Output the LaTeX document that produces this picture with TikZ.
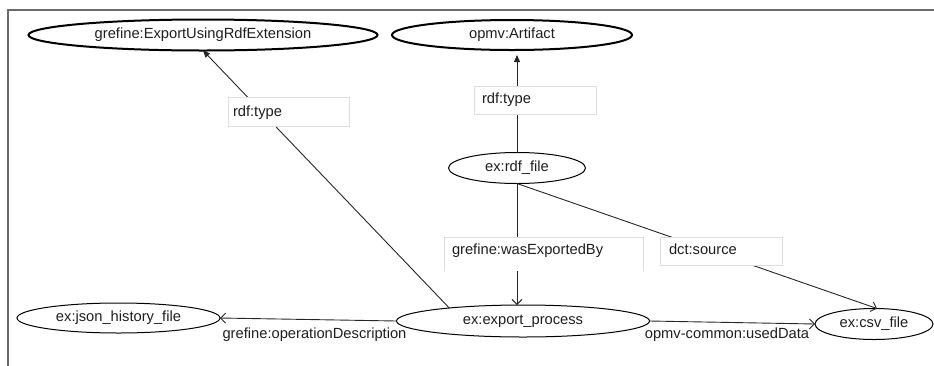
\documentclass[tikz,border=0pt]{standalone}
\usepackage{fontspec}
\setmainfont{Liberation Sans}
\usetikzlibrary{shapes.geometric,arrows.meta}
\begin{document}
\begin{tikzpicture}[x=1pt,y=-1pt,
  every node/.style={font=\fontsize{14.7}{17}\selectfont, text=black!88, inner sep=0pt, outer sep=0pt},
  ell/.style={ellipse, draw=black, line width=1pt, text height=10.5pt, text depth=3pt},
  boldell/.style={ell, line width=2pt},
  edgelbl/.style={text height=10.5pt, text depth=3pt},
  lblbox/.style={draw=black!13, fill=white, line width=0.8pt, anchor=north west, align=left, inner ysep=0pt},
  conn/.style={draw=black!85, line width=0.9pt},
  farrow/.style={conn, -{Triangle[length=7pt,width=6pt]}},
  oarrow/.style={conn, -{Straight Barb[length=5pt,width=10pt,line width=0.9pt]}}
]
\useasboundingbox (0,0) rectangle (934,365);
% frame
\draw[draw=black!58, line width=2pt] (8,366) -- (8,10) -- (935,10);

% nodes
\node[boldell, minimum width=349pt, minimum height=31pt] (eu) at (203,35) {grefine:ExportUsingRdfExtension};
\node[boldell, minimum width=240pt, minimum height=30pt] (art) at (512,35) {opmv:Artifact};
\node[ell, minimum width=137pt, minimum height=31pt] (rf) at (517,168) {ex:rdf\_file};
\node[ell, minimum width=253pt, minimum height=32pt] (ep) at (523,321) {ex:export\_process};
\node[ell, minimum width=203pt, minimum height=30pt] (js) at (118.5,318) {ex:json\_history\_file};
\node[ell, minimum width=118pt, minimum height=31pt] (csv) at (874,324) {ex:csv\_file};

% connectors
\draw[farrow] (ep.170) -- (eu.south);
\draw[farrow, shorten >=5pt] (rf.north) -- (rf.north |- art.south);
\draw[oarrow] (rf.south) -- (rf.south |- ep.north);
\draw[oarrow] (rf.south) -- ([xshift=3pt]csv.north);
\draw[oarrow] (ep.west) -- (js.east);
\draw[oarrow] (ep.east) -- (csv.west);

% edge labels
\node[lblbox, text width=111pt, inner xsep=5pt, text height=19pt, text depth=10pt] (l1) at (228,97) {rdf:type};
\node[lblbox, text width=106pt, inner xsep=8pt, text height=17pt, text depth=11pt] (l2) at (474,86) {rdf:type};
\node[lblbox, draw=none, text width=183pt, inner xsep=8pt, text height=17pt, text depth=17pt] (l3) at (444,237) {grefine:wasExportedBy};
\draw[draw=black!13, line width=0.8pt] (l3.south west) -- (l3.north west) -- (l3.north east) -- (l3.south east);
\node[lblbox, text width=104pt, inner xsep=9pt, text height=17pt, text depth=11pt] (l4) at (660,237) {dct:source};
\node[edgelbl] (l5) at (314.5,335) {grefine:operationDescription};
\node[edgelbl] (l6) at (727,335) {opmv-common:usedData};
\end{tikzpicture}
\end{document}
